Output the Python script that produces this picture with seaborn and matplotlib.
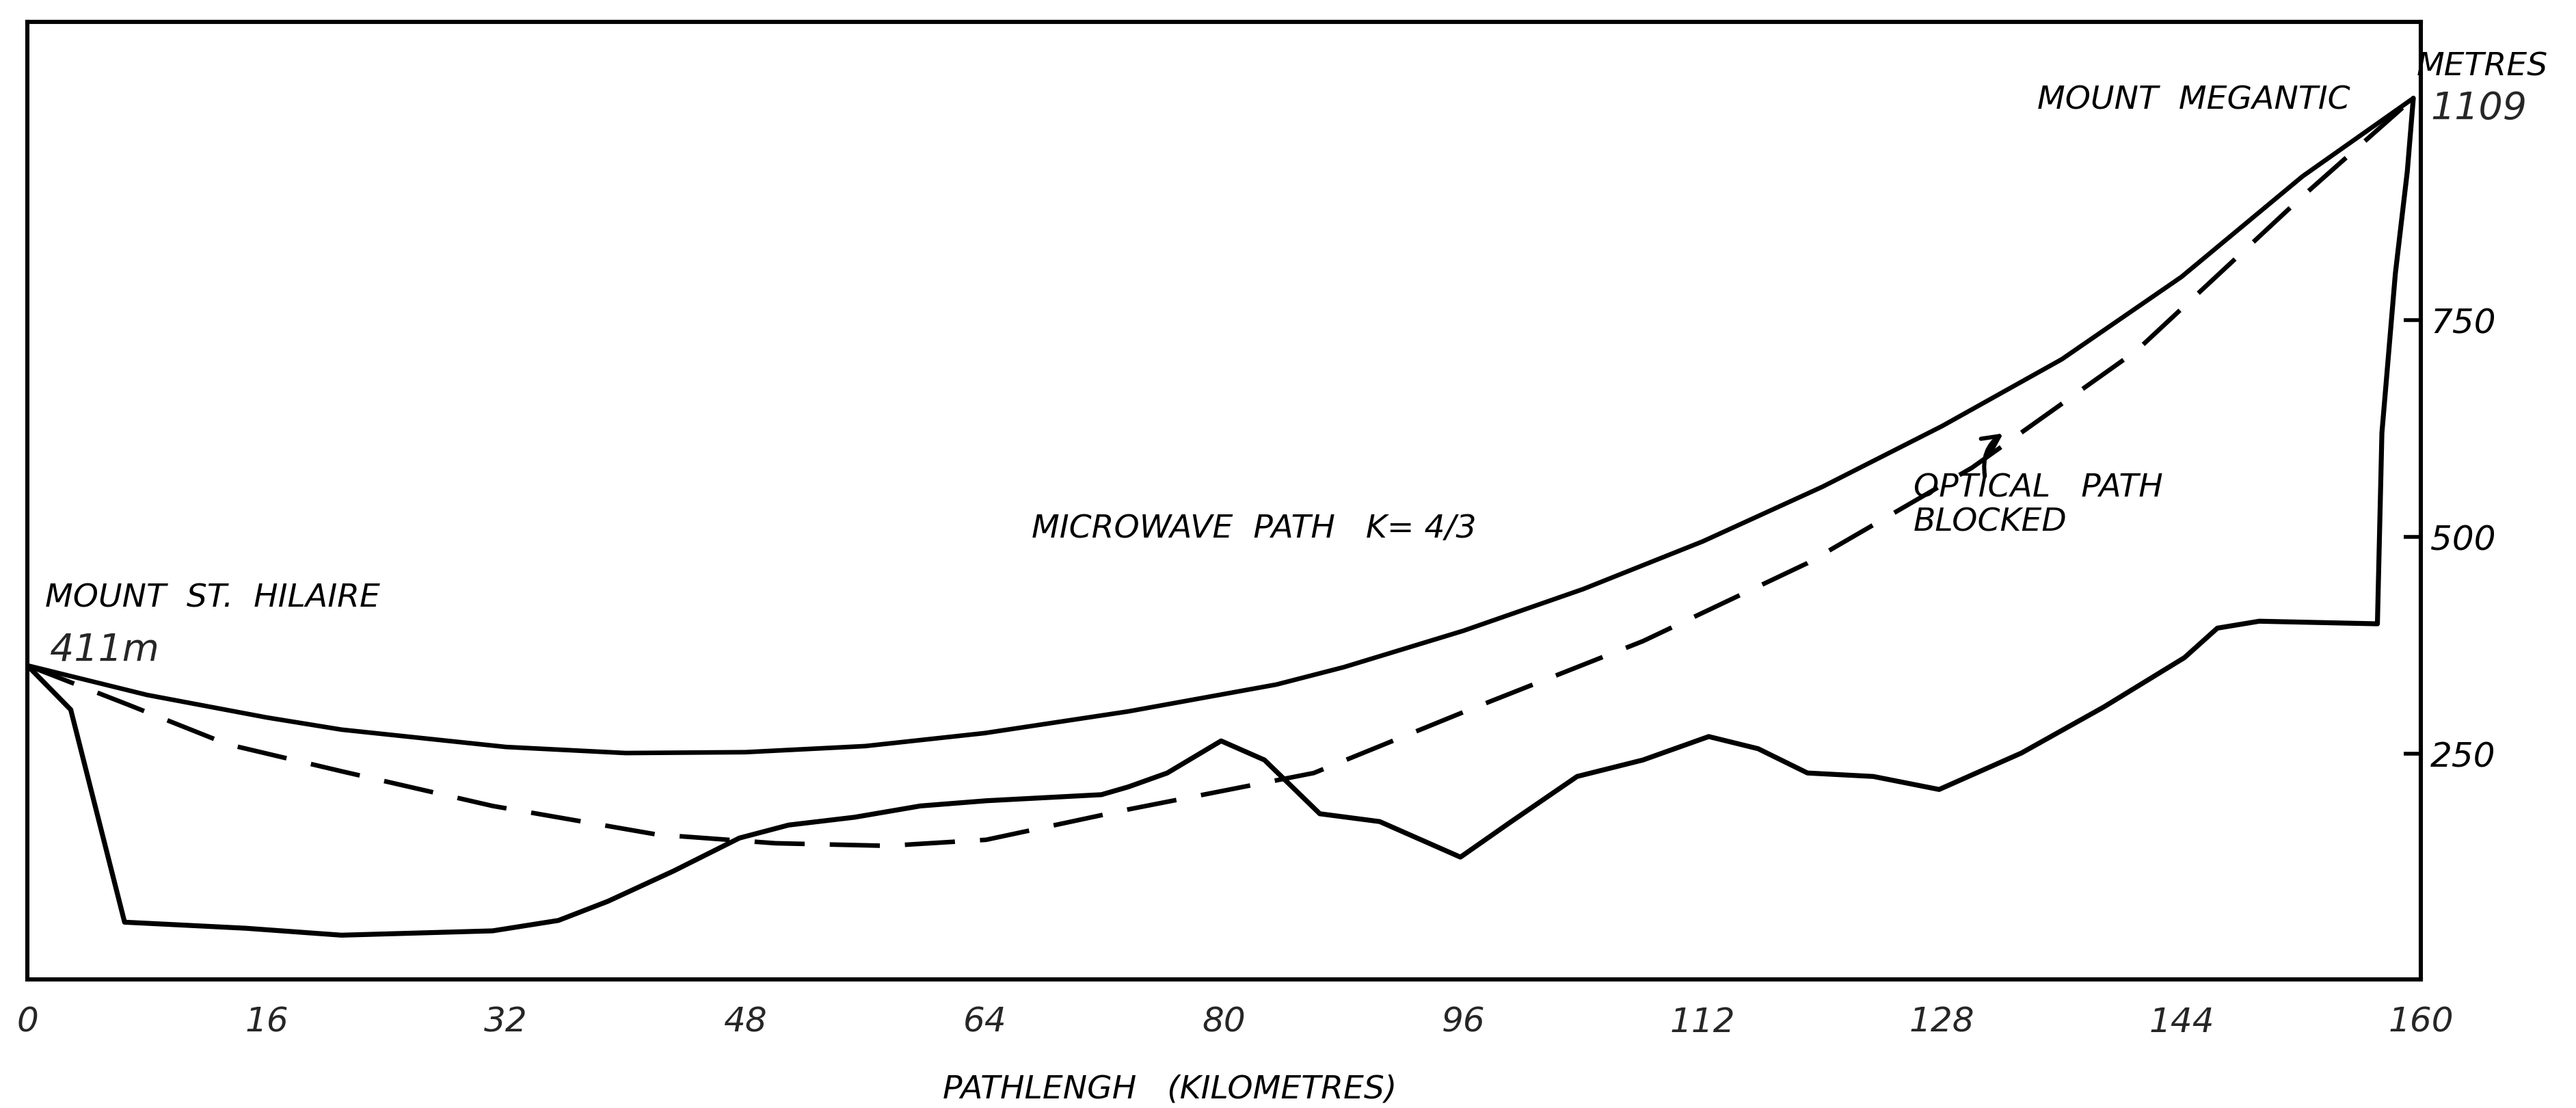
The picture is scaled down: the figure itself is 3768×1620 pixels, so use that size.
import matplotlib
matplotlib.use('Agg')
import matplotlib.pyplot as plt
import seaborn as sns

# Path profile Mount St. Hilaire -> Mount Megantic
terrain_km = [0, 2.9, 6.5, 14.6, 21.0, 31.1, 35.5, 38.8, 43.2, 47.6, 50.9, 55.3, 59.7,
              64.1, 71.8, 73.6, 76.2, 79.8, 82.7, 86.4, 90.4, 95.8, 99.2, 103.6, 108.0,
              112.4, 115.7, 119.0, 123.4, 127.8, 133.3, 138.8, 144.2, 146.4, 149.2,
              157.1, 157.4, 158.3, 159.1, 159.5]
terrain_m = [352, 301, 56, 49, 41, 46, 58, 80, 115, 153, 168, 177, 190,
             196, 203, 212, 228, 265, 243, 181, 172, 131, 172, 224, 243,
             270, 256, 228, 224, 209, 251, 304, 361, 395, 403,
             400, 620, 804, 922, 1006]

microwave_km = [0, 8, 16, 21, 32, 40, 48, 56, 64, 73.6, 83.5, 88, 96, 104, 112, 120,
                128, 136, 144, 152.1, 159.5]
microwave_m = [352, 318, 292, 278, 258, 251, 252, 259, 274, 299, 330, 350, 392, 440,
               495, 558, 628, 705, 800, 916, 1006]

optical_km = [0, 6.7, 13.4, 21.0, 31.1, 42.1, 50, 57.5, 64.1, 73.6, 86.0, 96.4, 108.0,
              119.0, 130.0, 141.0, 152.1, 159.5]
optical_m = [352, 307, 261, 230, 190, 157, 147, 144, 151, 186, 228, 301, 380,
             470, 580, 715, 893, 1006]

x_ticks = [0, 16, 32, 48, 64, 80, 96, 112, 128, 144, 160]
y_ticks = [250, 500, 750]

sns.set_style('white')
plt.rcParams['font.family'] = ['DejaVu Sans']

fig = plt.figure(figsize=(18.84, 8.10), dpi=200)
ax = fig.add_axes([0.01062, 0.11605, 0.92913, 0.86420])

line_kw = dict(ax=ax, color='black', estimator=None, sort=False, legend=False)
sns.lineplot(x=terrain_km, y=terrain_m, lw=2.6, **line_kw)
sns.lineplot(x=microwave_km, y=microwave_m, lw=2.4, **line_kw)
sns.lineplot(x=optical_km, y=optical_m, lw=2.4, linestyle=(0, (11, 5.5)), **line_kw)

ax.set_xlim(0, 160)
ax.set_ylim(-10, 1094)
for side in ax.spines.values():
    side.set_color('black')
    side.set_linewidth(2.2)
    side.set_visible(True)

ax.set_xticks(x_ticks)
ax.set_xticklabels([str(t) for t in x_ticks], fontsize=18, style='italic')
ax.tick_params(axis='x', length=0, pad=14)
ax.yaxis.tick_right()
ax.set_yticks(y_ticks)
ax.set_yticklabels([str(t) for t in y_ticks], fontsize=18, style='italic')
ax.tick_params(axis='y', direction='in', length=9, width=2, pad=5, colors='black')
ax.set_xlabel('')
ax.set_ylabel('')

txt = dict(color='black', fontsize=17, style='italic', fontweight='medium')
ax.text(1.2, 429, 'MOUNT  ST.  HILAIRE', ha='left', va='center', **txt)
ax.text(1.5, 370, '411m', ha='left', va='center', fontsize=20, style='italic')
ax.text(144.8, 1003, 'MOUNT  MEGANTIC', ha='center', va='center', **txt)
ax.text(82.0, 509, 'MICROWAVE  PATH   K= 4/3', ha='center', va='center', **txt)
ax.text(126.1, 556, 'OPTICAL   PATH', ha='left', va='center', **txt)
ax.text(126.1, 517, 'BLOCKED', ha='left', va='center', **txt)
# hand-drawn pointer from the caption up to the optical path
ax.annotate('', xy=(132.3, 622), xytext=(130.9, 566),
            arrowprops=dict(arrowstyle='->', lw=2.2, color='black',
                            connectionstyle='arc3,rad=-0.35', mutation_scale=22))

fig.text(0.9637, 0.9395, 'METRES', ha='center', va='center', **txt)
fig.text(0.9435, 0.902, '1109', ha='left', va='center', fontsize=20, style='italic')
fig.text(0.454, 0.0167, 'PATHLENGH   (KILOMETRES)', ha='center', va='center', **txt)

fig.savefig('out.png', dpi=200, facecolor='white')
